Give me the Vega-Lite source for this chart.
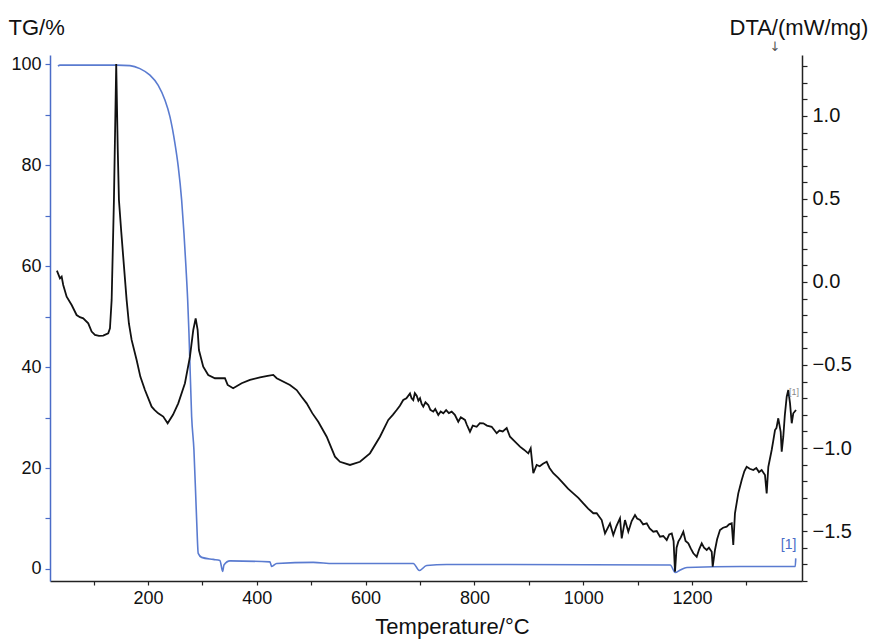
{
  "$schema": "https://vega.github.io/schema/vega-lite/v6.json",
  "autosize": {"type": "none"},
  "padding": {"left": 50, "top": 55, "right": 70, "bottom": 58},
  "width": 752,
  "height": 526,
  "background": "white",
  "config": {
    "view": {"stroke": null},
    "font": "Liberation Sans",
    "axis": {"grid": false, "labelFont": "Liberation Sans", "titleFont": "Liberation Sans", "labelColor": "#111", "titleColor": "#111", "titleFontWeight": "normal", "domainWidth": 1.5, "tickWidth": 1.2}
  },
  "datasets": {
    "tg": [
      {"T": 34.6, "TG": 99.6}, {"T": 38.3, "TG": 99.8}, {"T": 60, "TG": 99.8}, {"T": 100, "TG": 99.8}, {"T": 142.5, "TG": 99.8},
      {"T": 166.9, "TG": 99.7}, {"T": 185.3, "TG": 99.1}, {"T": 203.7, "TG": 97.8}, {"T": 218.9, "TG": 95.8}, {"T": 231.2, "TG": 92.9},
      {"T": 240.4, "TG": 89.6}, {"T": 249.6, "TG": 84.3}, {"T": 255.7, "TG": 79.7}, {"T": 261.9, "TG": 73.1}, {"T": 266.2, "TG": 66.5},
      {"T": 269.8, "TG": 59.9}, {"T": 273.0, "TG": 53.3}, {"T": 275.4, "TG": 46.7}, {"T": 280.3, "TG": 30.2}, {"T": 284.5, "TG": 23.6},
      {"T": 289.5, "TG": 9.7}, {"T": 292.4, "TG": 3.1}, {"T": 298.7, "TG": 2.3}, {"T": 320.0, "TG": 1.9}, {"T": 332.3, "TG": 1.7},
      {"T": 337.3, "TG": -0.5}, {"T": 339.7, "TG": 0.8}, {"T": 350.7, "TG": 1.6}, {"T": 424.2, "TG": 1.4}, {"T": 427.4, "TG": 0.5},
      {"T": 436.6, "TG": 1.1}, {"T": 503.8, "TG": 1.3}, {"T": 540.6, "TG": 1.1}, {"T": 687.6, "TG": 1.1}, {"T": 698.7, "TG": -0.3},
      {"T": 712.3, "TG": 0.7}, {"T": 749.0, "TG": 0.9}, {"T": 847.0, "TG": 0.9}, {"T": 1159.8, "TG": 0.8}, {"T": 1169.0, "TG": -0.7},
      {"T": 1178.2, "TG": -0.2}, {"T": 1190.5, "TG": 0.3}, {"T": 1288.5, "TG": 0.5}, {"T": 1389.6, "TG": 0.5}, {"T": 1390.5, "TG": 2.1}
    ],
    "dta": [
      {"T": 32.7, "DTA": 0.068}, {"T": 38.3, "DTA": 0.022}, {"T": 41.4, "DTA": 0.032}, {"T": 44.3, "DTA": -0.018}, {"T": 50.6, "DTA": -0.089},
      {"T": 59.8, "DTA": -0.139}, {"T": 68.9, "DTA": -0.199}, {"T": 75.0, "DTA": -0.212}, {"T": 81.1, "DTA": -0.219}, {"T": 90.3, "DTA": -0.249}, {"T": 96.5, "DTA": -0.299},
      {"T": 102.6, "DTA": -0.319}, {"T": 110.0, "DTA": -0.325}, {"T": 117.8, "DTA": -0.323}, {"T": 127.0, "DTA": -0.309}, {"T": 130.2, "DTA": -0.279}, {"T": 133.3, "DTA": -0.108},
      {"T": 137.5, "DTA": 0.494}, {"T": 141.7, "DTA": 1.313}, {"T": 144.5, "DTA": 0.8}, {"T": 146.7, "DTA": 0.494}, {"T": 151.0, "DTA": 0.30}, {"T": 154.6, "DTA": 0.150}, {"T": 160.8, "DTA": -0.108},
      {"T": 165.0, "DTA": -0.25}, {"T": 170.0, "DTA": -0.349}, {"T": 179.2, "DTA": -0.470}, {"T": 186.0, "DTA": -0.570}, {"T": 194.5, "DTA": -0.651}, {"T": 206.8, "DTA": -0.751}, {"T": 212.0, "DTA": -0.770}, {"T": 218.9, "DTA": -0.791},
      {"T": 228.1, "DTA": -0.811}, {"T": 236.2, "DTA": -0.851}, {"T": 246.0, "DTA": -0.800}, {"T": 255.7, "DTA": -0.731}, {"T": 268.0, "DTA": -0.610}, {"T": 277.2, "DTA": -0.450},
      {"T": 283.3, "DTA": -0.289}, {"T": 287.7, "DTA": -0.219}, {"T": 291.3, "DTA": -0.289}, {"T": 293.7, "DTA": -0.410}, {"T": 301.6, "DTA": -0.510},
      {"T": 310.8, "DTA": -0.560}, {"T": 323.1, "DTA": -0.580}, {"T": 341.5, "DTA": -0.580}, {"T": 346.5, "DTA": -0.620}, {"T": 356.6, "DTA": -0.640},
      {"T": 372.2, "DTA": -0.610}, {"T": 387.5, "DTA": -0.590}, {"T": 405.9, "DTA": -0.574}, {"T": 420.0, "DTA": -0.565}, {"T": 430.3, "DTA": -0.560}, {"T": 436.6, "DTA": -0.580},
      {"T": 461.0, "DTA": -0.620}, {"T": 473.3, "DTA": -0.651}, {"T": 482.0, "DTA": -0.690}, {"T": 491.7, "DTA": -0.731}, {"T": 502.0, "DTA": -0.790}, {"T": 513.0, "DTA": -0.842}, {"T": 528.5, "DTA": -0.932},
      {"T": 543.7, "DTA": -1.052}, {"T": 552.9, "DTA": -1.083}, {"T": 571.3, "DTA": -1.102}, {"T": 589.7, "DTA": -1.083}, {"T": 608.0, "DTA": -1.032},
      {"T": 626.4, "DTA": -0.932}, {"T": 641.7, "DTA": -0.831}, {"T": 650.0, "DTA": -0.800}, {"T": 657.1, "DTA": -0.771}, {"T": 663.0, "DTA": -0.745}, {"T": 669.2, "DTA": -0.711}, {"T": 675.0, "DTA": -0.700}, {"T": 681.6, "DTA": -0.671},
      {"T": 684.5, "DTA": -0.700}, {"T": 687.6, "DTA": -0.711}, {"T": 690.5, "DTA": -0.670}, {"T": 693.9, "DTA": -0.685}, {"T": 697.0, "DTA": -0.715}, {"T": 700.0, "DTA": -0.700}, {"T": 703.0, "DTA": -0.735}, {"T": 706.0, "DTA": -0.751}, {"T": 710.0, "DTA": -0.725}, {"T": 715.2, "DTA": -0.741},
      {"T": 719.0, "DTA": -0.770}, {"T": 724.4, "DTA": -0.781}, {"T": 728.0, "DTA": -0.765}, {"T": 733.6, "DTA": -0.801}, {"T": 738.0, "DTA": -0.780}, {"T": 742.8, "DTA": -0.791}, {"T": 748.0, "DTA": -0.772}, {"T": 753.0, "DTA": -0.790}, {"T": 758.2, "DTA": -0.781}, {"T": 764.0, "DTA": -0.800}, {"T": 770.3, "DTA": -0.842},
      {"T": 775.0, "DTA": -0.815}, {"T": 782.6, "DTA": -0.831}, {"T": 786.0, "DTA": -0.860}, {"T": 791.8, "DTA": -0.902}, {"T": 797.0, "DTA": -0.865}, {"T": 804.1, "DTA": -0.872}, {"T": 810.0, "DTA": -0.850}, {"T": 816.3, "DTA": -0.851}, {"T": 823.0, "DTA": -0.865}, {"T": 831.7, "DTA": -0.872},
      {"T": 836.0, "DTA": -0.890}, {"T": 840.9, "DTA": -0.911}, {"T": 846.0, "DTA": -0.895}, {"T": 852.0, "DTA": -0.900}, {"T": 859.3, "DTA": -0.880}, {"T": 865.4, "DTA": -0.932}, {"T": 874.0, "DTA": -0.960}, {"T": 883.7, "DTA": -0.992}, {"T": 891.0, "DTA": -1.010}, {"T": 899.0, "DTA": -1.032},
      {"T": 903.4, "DTA": -1.002}, {"T": 908.2, "DTA": -1.152}, {"T": 914.4, "DTA": -1.102}, {"T": 920.0, "DTA": -1.110}, {"T": 926.0, "DTA": -1.095}, {"T": 932.8, "DTA": -1.083}, {"T": 938.0, "DTA": -1.120}, {"T": 944.9, "DTA": -1.152},
      {"T": 954.0, "DTA": -1.180}, {"T": 963.3, "DTA": -1.213}, {"T": 972.0, "DTA": -1.245}, {"T": 981.7, "DTA": -1.273}, {"T": 991.0, "DTA": -1.300}, {"T": 1000.1, "DTA": -1.333}, {"T": 1009.0, "DTA": -1.365}, {"T": 1018.5, "DTA": -1.393}, {"T": 1024.7, "DTA": -1.393},
      {"T": 1033.9, "DTA": -1.434}, {"T": 1040.0, "DTA": -1.514}, {"T": 1049.2, "DTA": -1.454}, {"T": 1055.2, "DTA": -1.524}, {"T": 1061.0, "DTA": -1.470}, {"T": 1067.5, "DTA": -1.423},
      {"T": 1070.7, "DTA": -1.544}, {"T": 1076.7, "DTA": -1.434}, {"T": 1082.8, "DTA": -1.504}, {"T": 1089.0, "DTA": -1.440}, {"T": 1095.1, "DTA": -1.404}, {"T": 1099.0, "DTA": -1.425}, {"T": 1104.3, "DTA": -1.434},
      {"T": 1110.0, "DTA": -1.460}, {"T": 1116.6, "DTA": -1.454}, {"T": 1122.0, "DTA": -1.485}, {"T": 1128.7, "DTA": -1.504}, {"T": 1135.0, "DTA": -1.500}, {"T": 1141.1, "DTA": -1.534}, {"T": 1147.0, "DTA": -1.530}, {"T": 1153.4, "DTA": -1.554}, {"T": 1158.0, "DTA": -1.520}, {"T": 1162.6, "DTA": -1.514},
      {"T": 1166.0, "DTA": -1.560}, {"T": 1168.6, "DTA": -1.745}, {"T": 1171.5, "DTA": -1.600}, {"T": 1174.7, "DTA": -1.564}, {"T": 1179.0, "DTA": -1.540}, {"T": 1183.9, "DTA": -1.504}, {"T": 1188.0, "DTA": -1.560}, {"T": 1193.1, "DTA": -1.574}, {"T": 1197.5, "DTA": -1.605}, {"T": 1202.3, "DTA": -1.634},
      {"T": 1208.5, "DTA": -1.655}, {"T": 1213.0, "DTA": -1.610}, {"T": 1217.7, "DTA": -1.574}, {"T": 1222.0, "DTA": -1.600}, {"T": 1226.9, "DTA": -1.614}, {"T": 1231.0, "DTA": -1.600}, {"T": 1236.1, "DTA": -1.625}, {"T": 1237.9, "DTA": -1.715},
      {"T": 1242.1, "DTA": -1.614}, {"T": 1246.0, "DTA": -1.550}, {"T": 1251.3, "DTA": -1.494}, {"T": 1257.0, "DTA": -1.480}, {"T": 1263.6, "DTA": -1.474}, {"T": 1268.0, "DTA": -1.460}, {"T": 1272.8, "DTA": -1.454}, {"T": 1275.7, "DTA": -1.584},
      {"T": 1278.8, "DTA": -1.393}, {"T": 1284.9, "DTA": -1.273}, {"T": 1291.2, "DTA": -1.193}, {"T": 1296.0, "DTA": -1.140}, {"T": 1300.3, "DTA": -1.113}, {"T": 1306.0, "DTA": -1.125}, {"T": 1312.5, "DTA": -1.133},
      {"T": 1318.0, "DTA": -1.120}, {"T": 1323.0, "DTA": -1.145}, {"T": 1327.9, "DTA": -1.133}, {"T": 1334.0, "DTA": -1.163}, {"T": 1337.1, "DTA": -1.273}, {"T": 1340.1, "DTA": -1.113}, {"T": 1346.3, "DTA": -1.012},
      {"T": 1349.0, "DTA": -0.960}, {"T": 1352.4, "DTA": -0.892}, {"T": 1355.0, "DTA": -0.880}, {"T": 1358.4, "DTA": -0.821}, {"T": 1362.8, "DTA": -0.902}, {"T": 1364.7, "DTA": -1.022}, {"T": 1367.6, "DTA": -0.932},
      {"T": 1370.5, "DTA": -0.800}, {"T": 1373.9, "DTA": -0.691}, {"T": 1376.8, "DTA": -0.651}, {"T": 1380.0, "DTA": -0.731}, {"T": 1383.1, "DTA": -0.851}, {"T": 1386.0, "DTA": -0.791},
      {"T": 1391.0, "DTA": -0.771}
    ],
    "tglabel": [{"T": 1363, "TG": 4.75, "text": "[1]"}],
    "dtalabel": [{"T": 1378, "DTA": -0.663, "text": "[1]"}],
    "arrow": [{"T": 1352.4, "DTA": 1.416, "text": "↓"}]
  },
  "layer": [
    {
      "data": {"name": "tg"},
      "mark": {"type": "line", "color": "#5a7bd0", "strokeWidth": 1.6, "interpolate": "monotone"},
      "encoding": {
        "x": {"field": "T", "type": "quantitative", "scale": {"domain": [20, 1402], "nice": false, "zero": false},
          "axis": {"title": "Temperature/°C", "values": [100, 200, 300, 400, 500, 600, 700, 800, 900, 1000, 1100, 1200, 1300],
            "labelExpr": "datum.value % 200 === 0 ? datum.label : ''", "format": "d", "labelFontSize": 18, "labelPadding": 4, "tickSize": 4, "labelOverlap": false,
            "domainColor": "#222", "tickColor": "#222", "titleFontSize": 22, "titleX": 402, "titleY": 52, "titleAlign": "center", "titleBaseline": "alphabetic"}},
        "y": {"field": "TG", "type": "quantitative", "scale": {"domain": [-2.38, 101.8], "nice": false, "zero": false},
          "axis": {"orient": "left", "title": "TG/%", "values": [0, 10, 20, 30, 40, 50, 60, 70, 80, 90, 100],
            "labelExpr": "datum.value % 20 === 0 ? datum.label : ''", "labelFontSize": 18, "labelPadding": 4, "tickSize": 5, "labelOverlap": false,
            "domainColor": "#4a6cc8", "tickColor": "#4a6cc8", "titleAngle": 0, "titleFontSize": 22, "titleX": -42, "titleY": -21,
            "titleAlign": "left", "titleBaseline": "alphabetic"}}
      }
    },
    {
      "data": {"name": "tglabel"},
      "mark": {"type": "text", "color": "#4a6cc8", "fontSize": 14, "align": "left", "baseline": "middle", "font": "Liberation Sans"},
      "encoding": {
        "x": {"field": "T", "type": "quantitative", "title": "Temperature/°C"},
        "y": {"field": "TG", "type": "quantitative", "scale": {"domain": [-2.38, 101.8], "nice": false, "zero": false}, "axis": null},
        "text": {"field": "text"}
      }
    },
    {
      "data": {"name": "dta"},
      "mark": {"type": "line", "color": "#111", "strokeWidth": 1.8},
      "encoding": {
        "x": {"field": "T", "type": "quantitative", "title": "Temperature/°C"},
        "y": {"field": "DTA", "type": "quantitative", "scale": {"domain": [-1.801, 1.367], "nice": false, "zero": false},
          "axis": {"orient": "right", "title": "DTA/(mW/mg)", "format": ".1f", "labelOverlap": false,
            "values": [-1.8, -1.7, -1.6, -1.5, -1.4, -1.3, -1.2, -1.1, -1.0, -0.9, -0.8, -0.7, -0.6, -0.5, -0.4, -0.3, -0.2, -0.1, 0, 0.1, 0.2, 0.3, 0.4, 0.5, 0.6, 0.7, 0.8, 0.9, 1.0, 1.1, 1.2, 1.3],
            "labelExpr": "abs(round(datum.value * 10)) % 5 === 0 ? datum.label : ''", "labelFontSize": 20, "labelPadding": 5, "tickSize": 5,
            "domainColor": "#222", "tickColor": "#222", "titleAngle": 0, "titleFontSize": 22, "titleX": -73, "titleY": -21,
            "titleAlign": "left", "titleBaseline": "alphabetic"}}
      }
    },
    {
      "data": {"name": "dtalabel"},
      "mark": {"type": "text", "color": "#888888", "fontSize": 9, "align": "left", "baseline": "middle", "font": "Liberation Sans"},
      "encoding": {
        "x": {"field": "T", "type": "quantitative", "title": "Temperature/°C"},
        "y": {"field": "DTA", "type": "quantitative", "scale": {"domain": [-1.801, 1.367], "nice": false, "zero": false}, "axis": null},
        "text": {"field": "text"}
      }
    },
    {
      "data": {"name": "arrow"},
      "mark": {"type": "text", "color": "#555555", "fontSize": 13, "align": "center", "baseline": "middle", "font": "DejaVu Sans"},
      "encoding": {
        "x": {"field": "T", "type": "quantitative", "title": "Temperature/°C"},
        "y": {"field": "DTA", "type": "quantitative", "scale": {"domain": [-1.801, 1.367], "nice": false, "zero": false}, "axis": null},
        "text": {"field": "text"}
      }
    }
  ],
  "resolve": {"scale": {"y": "independent"}}
}
